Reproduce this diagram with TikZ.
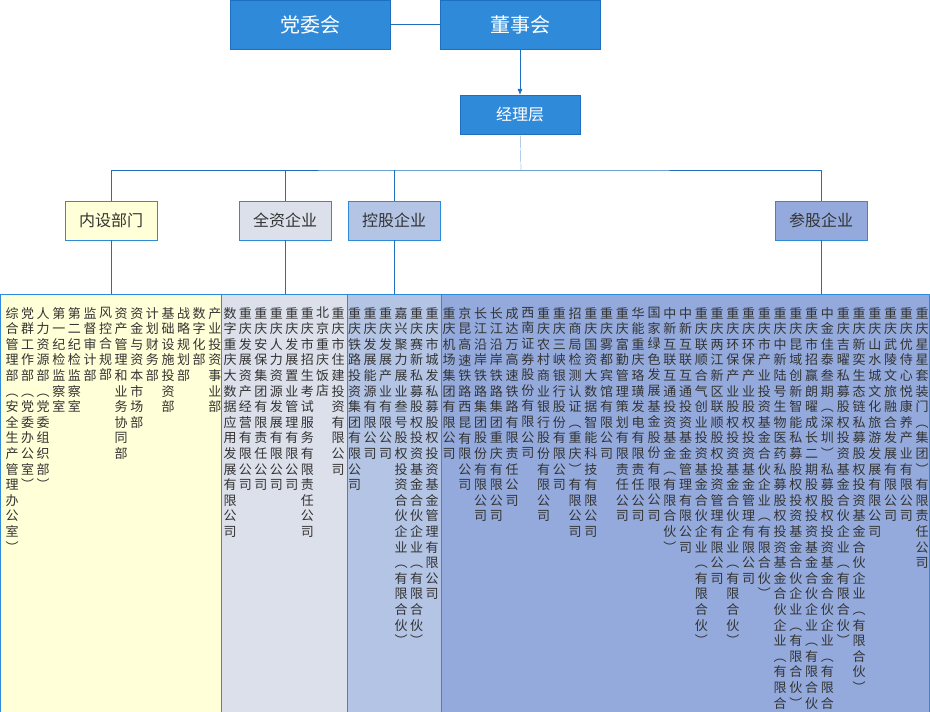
\documentclass[tikz,border=0pt]{standalone}
\usepackage{fontspec}
\setmainfont{Noto Sans CJK SC}
\usetikzlibrary{positioning,arrows.meta}
\definecolor{topblue}{HTML}{2F8ADA}
\definecolor{lineblue}{HTML}{1F6FC0}
\definecolor{pyellow}{HTML}{FFFFD8}
\definecolor{pgray}{HTML}{DCE0EA}
\definecolor{plight}{HTML}{B4C4E4}
\definecolor{pmid}{HTML}{94AADC}
\definecolor{txt}{HTML}{333333}
% vertical text, one character per line
\def\vtx#1#2{#1\ifx#2\relax\else\\\expandafter\vtx\expandafter#2\fi}
\def\vt#1{\vtx#1\relax}
\tikzset{
  topbox/.style={draw=lineblue,fill=topblue,text=white,minimum height=49,inner sep=0},
  catbox/.style={draw=topblue,text=txt,minimum width=92,minimum height=39,inner sep=0,font=\fontsize{16}{18}\selectfont},
  panel/.style={draw=topblue,anchor=north west,inner sep=0},
  col/.style={anchor=north,inner sep=0,align=center,text=txt,font=\fontsize{13}{15.6}\selectfont},
  link/.style={draw=lineblue}
}
\begin{document}
\begin{tikzpicture}[x=1pt,y=-1pt]
\useasboundingbox (0,0) rectangle (930,712);
% top
\node[topbox,minimum width=160,font=\fontsize{20}{22}\selectfont] (dwh) at (310,24.5) {党委会};
\node[topbox,minimum width=160,font=\fontsize{20}{22}\selectfont] (dsh) at (520,24.5) {董事会};
\node[topbox,minimum width=120,minimum height=39,font=\fontsize{16}{18}\selectfont] (jlc) at (520,114.5) {经理层};
\draw[link] (dwh) -- (dsh);
\draw[link,-{Latex[length=6,width=5]}] (dsh) -- (jlc);
% categories
\node[catbox,fill=pyellow] (nsbm) at (111,220.5) {内设部门};
\node[catbox,fill=pgray] (qzqy) at (285,220.5) {全资企业};
\node[catbox,fill=plight] (kgqy) at (394,220.5) {控股企业};
\node[catbox,fill=pmid] (cgqy) at (821,220.5) {参股企业};
\coordinate (bus) at (521,170);
\draw[link,very thin] (jlc) -- (bus);
\draw[link] (nsbm.north) |- (bus) -| (cgqy.north);
\draw[link] (qzqy.north) -- (qzqy.north |- bus);
\draw[link] (kgqy.north) -- (kgqy.north |- bus);
% panels
\node[panel,fill=pyellow,minimum width=221,minimum height=418] (pa) at (0,294) {};
\node[panel,fill=pgray,minimum width=126,minimum height=418] (pb) at (221,294) {};
\node[panel,fill=plight,minimum width=94,minimum height=418] (pc) at (347,294) {};
\node[panel,fill=pmid,minimum width=488,minimum height=418] (pd) at (441,294) {};
\foreach \c/\p in {nsbm/pa,qzqy/pb,kgqy/pc,cgqy/pd}
  \draw[link] (\c.south) -- (\c.south |- \p.north);
% columns
\foreach \t [count=\i from 0] in {综合管理部︵安全生产管理办公室︶,党群工作部︵党委办公室︶,人力资源部︵党委组织部︶,第一纪检监察室,第二纪检监察室,监督审计部,风控合规部,资产管理和业务协同部,资金与资本市场部,计划财务部,基础设施投资部,战略规划部,数字化部,产业投资事业部}
  \node[col] (ca\i) at (12+15.6*\i,307) {\expandafter\vt\expandafter{\t}};
\foreach \t [count=\i from 0] in {数字重庆大数据应用发展有限公司,重庆发展资产经营有限公司,重庆安保集团有限责任公司,重庆人力资源发展有限公司,重庆发展置业管理有限公司,重庆市招生考试服务有限责任公司,北京重庆饭店,重庆市住建投资有限公司}
  \node[col] (cb\i) at (230+15.45*\i,307) {\expandafter\vt\expandafter{\t}};
\foreach \t [count=\i from 0] in {重庆铁路投资集团有限公司,重庆发展能源有限公司,重庆发展产业有限公司,嘉兴聚力展业叁号股权投资合伙企业︵有限合伙︶,重庆赛新私募股权投资基金合伙企业︵有限合伙︶,重庆市城发私募股权投资基金管理有限公司}
  \node[col] (cc\i) at (354.5+15.5*\i,307) {\expandafter\vt\expandafter{\t}};
\foreach \t [count=\i from 0] in {重庆机场集团有限公司,京昆高速铁路西昆有限公司,长江沿岸铁路集团股份有限公司,长江沿岸铁路集团重庆有限公司,成达万高速铁路有限责任公司,西南证券股份有限公司,重庆农村商业银行股份有限公司,重庆三峡银行股份有限公司,招商局检测认证︵重庆︶有限公司,重庆国资大数据智能科技有限公司,重庆雾都宾馆有限公司,重庆富勤管理策划有限责任公司,华能重庆珞璜发电有限责任公司,国家绿色发展基金股份有限公司,中新互联互通投资基金︵有限合伙︶,中新互联互通投资基金管理有限公司,重庆联顺合气创业投资基金合伙企业︵有限合伙︶,重庆两江新区联顺股权投资管理有限公司,重庆环保产业股权投资基金合伙企业︵有限合伙︶,重庆环保产业股权投资基金管理有限公司,重庆市产业投资基金合伙企业︵有限合伙︶,重庆中新陆号生物医药私募股权投资基金合伙企业︵有限合伙︶,重庆昆域创新智能私募股权投资基金合伙企业︵有限合伙︶,重庆市招赢朗曜成长二期股权投资基金合伙企业︵有限合伙︶,中金佳泰叁期︵深圳︶私募股权投资基金合伙企业︵有限合伙︶,重庆吉曜私募股权投资基金合伙企业︵有限合伙︶,重庆新奕生态链私募股权投资基金合伙企业︵有限合伙︶,重庆山水城文化旅游发展有限公司,重庆武陵文旅融合发展有限公司,重庆优侍心悦康养产业有限公司,重庆星星套装门︵集团︶有限责任公司}
  \node[col] (cd\i) at (449+15.77*\i,307) {\expandafter\vt\expandafter{\t}};
\end{tikzpicture}
\end{document}
